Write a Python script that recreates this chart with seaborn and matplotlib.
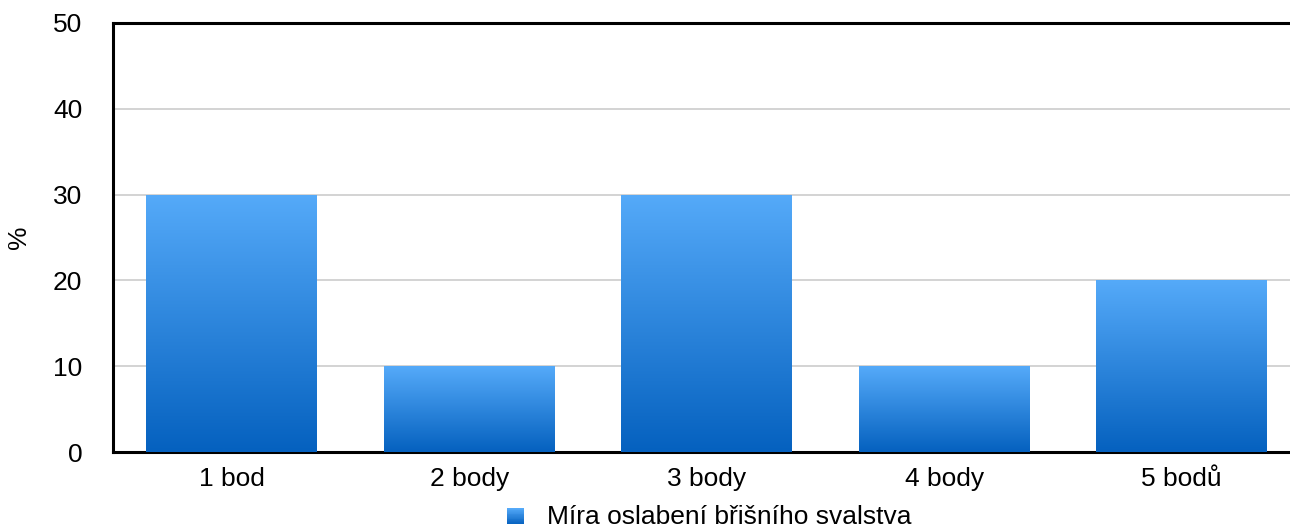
import numpy as np
import pandas as pd
import matplotlib
matplotlib.use("Agg")
import matplotlib.pyplot as plt
from matplotlib.patches import Rectangle
from matplotlib.legend_handler import HandlerBase
from matplotlib.colors import LinearSegmentedColormap
import seaborn as sns

categories = ["1 bod", "2 body", "3 body", "4 body", "5 bodů"]
values = [30, 10, 30, 10, 20]
series_name = "Míra oslabení břišního svalstva"
y_ticks = [0, 10, 20, 30, 40, 50]

top_color = "#55AAF9"
bottom_color = "#0561BF"
grad_cmap = LinearSegmentedColormap.from_list("bar_grad", [bottom_color, top_color])

sns.set_theme(style="white")
plt.rcParams["font.family"] = ["Liberation Sans", "DejaVu Sans"]
plt.rcParams["text.color"] = "black"

fig = plt.figure(figsize=(12.9, 5.31), dpi=100)
ax = fig.add_axes([113 / 1290, 1 - 452 / 531, 1187.5 / 1290, 429 / 531])

df = pd.DataFrame({"kategorie": categories, "procenta": values})
sns.barplot(data=df, x="kategorie", y="procenta", ax=ax, width=0.72,
            color=top_color, saturation=1, zorder=2)

# vertical gradient fill for each bar
grad = np.linspace(0, 1, 256).reshape(-1, 1)
for patch in ax.patches:
    x0, y0 = patch.get_x(), patch.get_y()
    w, h = patch.get_width(), patch.get_height()
    patch.set_edgecolor("none")
    im = ax.imshow(grad, cmap=grad_cmap, origin="lower", aspect="auto",
                   extent=[x0, x0 + w, y0, y0 + h], zorder=3, interpolation="bilinear")
    im.set_clip_path(patch)

ax.set_xlim(-0.5, len(categories) - 0.5)
ax.set_ylim(0, 50)
ax.set_yticks(y_ticks)
ax.yaxis.grid(True, color="#CCCCCC", linewidth=1.2, zorder=0)
ax.set_axisbelow(True)

for side in ["left", "bottom", "top"]:
    ax.spines[side].set_visible(True)
    ax.spines[side].set_color("black")
    ax.spines[side].set_linewidth(2.2)
ax.spines["right"].set_visible(False)

ax.tick_params(axis="both", labelsize=19, colors="black", length=0)
ax.tick_params(axis="x", pad=11)
ax.tick_params(axis="y", pad=22)
ax.set_xlabel("")
ax.set_ylabel("%", fontsize=19, labelpad=16, color="black")


class GradientHandler(HandlerBase):
    def create_artists(self, legend, orig_handle, xdescent, ydescent,
                       width, height, fontsize, trans):
        n = 20
        artists = []
        side = height * 0.9
        x0 = -xdescent + (width - side) / 2
        y0 = -ydescent + (height - side) / 2 - 1
        for i in range(n):
            c = grad_cmap(i / (n - 1))
            r = Rectangle((x0, y0 + side * i / n), side, side / n + 0.05,
                          facecolor=c, edgecolor="none", transform=trans)
            artists.append(r)
        return artists


handle = Rectangle((0, 0), 1, 1)
fig.legend([handle], [series_name], handler_map={Rectangle: GradientHandler()},
           loc="center", bbox_to_anchor=(708 / 1290, 1 - 517 / 531),
           frameon=False, fontsize=19, handlelength=0.8, handletextpad=0.8,
           labelcolor="black")

fig.savefig("out.png", dpi=100)
